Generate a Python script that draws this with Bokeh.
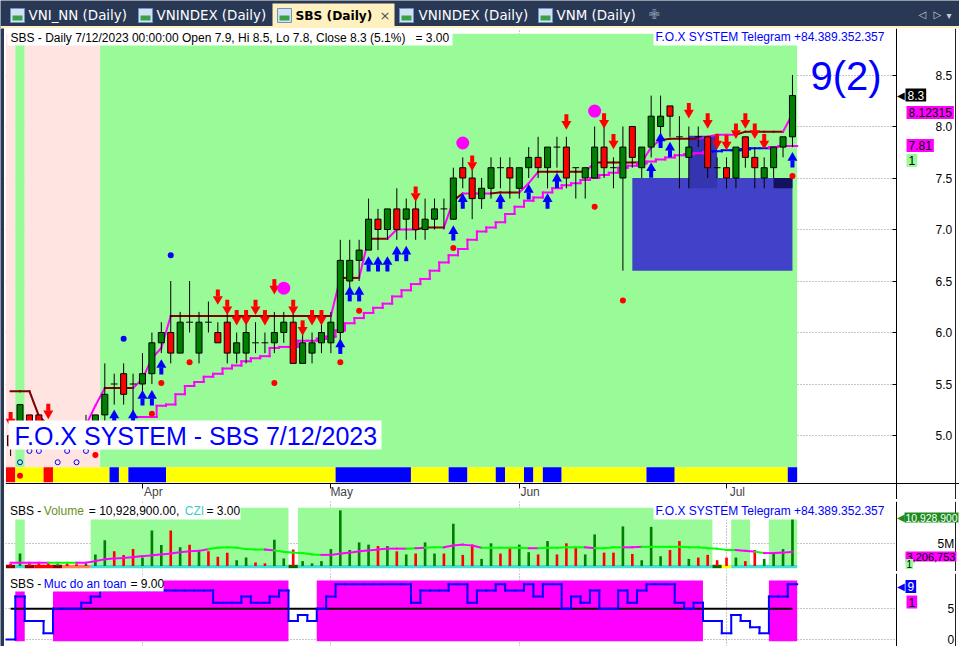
import numpy as np
from bokeh.plotting import figure
from bokeh.models import Range1d, FixedTicker, Label, LinearAxis, Span
from bokeh.layouts import column, row
from bokeh.embed import file_html
from bokeh.resources import INLINE
from bokeh.core.properties import value

# ---------------- data ----------------
month_ticks = [14, 34, 54, 76]
month_labels = ["Apr", "May", "Jun", "Jul"]
price_ticks = [5.0, 5.5, 6.0, 6.5, 7.0, 7.5, 8.0, 8.5]
vol_ticks = [5]
vol_tick_labels = ["5M"]
safe_ticks = [0, 5]
safe_threshold = 5

opens = [5.0, 5.0, 5.2, 5.2, 5.0, 4.9, 5.0, 5.0, 4.9, 5.0,
         5.2, 5.5, 5.6, 5.5, 5.5, 5.6, 5.9, 6.0, 5.8, 6.1,
         5.8, 6.1, 6.0, 6.1, 5.8, 5.8, 5.9, 5.9, 5.9, 6.0,
         6.1, 5.7, 5.8, 5.9, 5.9, 6.0, 6.5, 6.7, 6.8, 7.1,
         7.0, 7.2, 7.1, 7.2, 7.0, 7.1, 7.2, 7.1, 7.6, 7.5,
         7.3, 7.4, 7.6, 7.6, 7.4, 7.6, 7.7, 7.6, 7.8, 7.8,
         7.6, 7.5, 7.5, 7.8, 7.6, 7.5, 8.0, 7.6, 7.8, 8.0,
         8.2, 7.9, 7.7, 7.9, 7.9, 7.6, 7.6, 7.5, 7.9, 7.7,
         7.5, 7.6, 7.8, 7.9]
highs = [5.0, 5.3, 5.2, 5.2, 5.1, 5.0, 5.1, 5.0, 5.2, 5.2,
         5.7, 5.6, 5.7, 5.6, 5.8, 6.0, 6.1, 6.5, 6.2, 6.5,
         6.2, 6.3, 6.1, 6.2, 6.0, 6.2, 6.1, 6.0, 6.2, 6.2,
         6.2, 6.0, 6.0, 6.1, 6.2, 6.9, 6.9, 6.9, 7.3, 7.2,
         7.2, 7.4, 7.3, 7.3, 7.3, 7.3, 7.3, 7.6, 7.7, 7.6,
         7.5, 7.7, 7.7, 7.7, 7.6, 7.8, 7.9, 7.8, 7.9, 7.9,
         7.6, 7.6, 8.0, 8.0, 7.7, 8.0, 8.0, 7.8, 8.3, 8.3,
         8.2, 8.1, 8.0, 8.0, 7.9, 7.7, 7.7, 7.8, 7.9, 7.8,
         7.7, 7.8, 7.9, 8.5]
lows = [4.8, 4.9, 5.0, 5.0, 4.9, 4.9, 4.9, 4.9, 4.9, 4.9,
        5.1, 5.3, 5.3, 5.2, 5.4, 5.5, 5.8, 5.7, 5.8, 6.0,
        5.7, 6.0, 5.9, 5.7, 5.7, 5.7, 5.8, 5.8, 5.8, 5.9,
        5.7, 5.7, 5.7, 5.8, 5.8, 5.9, 6.4, 6.5, 6.8, 6.8,
        6.9, 6.9, 6.9, 6.9, 6.9, 7.0, 7.0, 7.1, 7.4, 7.1,
        7.2, 7.3, 7.4, 7.3, 7.3, 7.5, 7.5, 7.4, 7.6, 7.4,
        7.3, 7.3, 7.5, 7.5, 7.4, 6.6, 7.6, 7.5, 7.7, 7.9,
        7.9, 7.4, 7.4, 7.8, 7.5, 7.5, 7.4, 7.4, 7.6, 7.4,
        7.4, 7.5, 7.7, 7.8]
closes = [4.9, 5.3, 5.1, 5.0, 4.9, 5.0, 4.9, 4.9, 5.0, 5.2,
          5.4, 5.5, 5.4, 5.5, 5.6, 5.9, 6.0, 5.8, 6.1, 6.1,
          6.1, 6.1, 5.9, 5.8, 5.9, 6.0, 5.9, 5.9, 6.0, 6.1,
          5.7, 5.9, 5.9, 6.0, 6.1, 6.7, 6.7, 6.8, 7.1, 7.0,
          7.2, 7.0, 7.2, 7.0, 7.1, 7.2, 7.2, 7.5, 7.5, 7.3,
          7.4, 7.6, 7.6, 7.5, 7.6, 7.7, 7.6, 7.8, 7.8, 7.5,
          7.6, 7.6, 7.8, 7.6, 7.6, 7.8, 7.7, 7.8, 8.1, 8.1,
          8.1, 7.9, 7.8, 7.9, 7.6, 7.6, 7.5, 7.8, 7.7, 7.6,
          7.6, 7.8, 7.9, 8.3]

volume_m = [0.5, 2.8, 0.6, 0.8, 0.7, 0.4, 0.5, 0.4, 0.6, 2.6,
            5.8, 3.3, 2.5, 3.8, 1.9, 8.0, 4.7, 8.0, 4.2, 4.8,
            3.3, 3.3, 2.1, 3.0, 1.3, 1.9, 0.8, 0.6, 5.9, 1.7,
            3.7, 1.1, 0.6, 1.1, 3.8, 12.5, 3.6, 5.3, 4.8, 4.5,
            4.5, 3.3, 2.6, 2.8, 5.3, 2.8, 2.8, 9.5, 2.5, 4.8,
            1.6, 5.1, 2.8, 4.1, 4.8, 3.1, 2.6, 5.6, 2.6, 5.1,
            4.3, 2.6, 7.1, 3.0, 3.0, 8.9, 2.7, 1.3, 8.8, 2.2,
            3.6, 5.6, 1.6, 1.9, 2.5, 1.3, 1.9, 1.9, 1.1, 3.6,
            1.6, 3.0, 3.8, 10.9289]
vol_ma_m = [0.75, 0.75, 0.75, 0.75, 0.75, 0.75, 0.75, 0.75, 0.75, 1.1,
            1.5, 1.7, 1.8, 2.0, 2.2, 2.4, 2.6, 2.8, 3.1, 3.3,
            3.4, 3.8, 4.1, 4.2, 4.1, 3.8, 3.7, 3.7, 3.5, 3.2,
            3.0, 2.9, 2.6, 2.5, 2.5, 2.8, 3.0, 3.3, 3.5, 3.7,
            3.9, 3.9, 3.9, 4.0, 4.1, 4.2, 4.2, 4.6, 4.8, 4.6,
            4.1, 4.1, 4.1, 4.1, 4.1, 4.0, 4.0, 4.1, 4.1, 4.2,
            4.2, 4.2, 4.0, 4.0, 4.2, 4.2, 4.2, 4.3, 4.3, 4.3,
            4.3, 4.3, 4.2, 4.2, 4.0, 3.9, 3.6, 3.6, 3.4, 3.2,
            2.9, 2.9, 3.0, 3.2068]
# M = magenta segment, G = green segment
vol_ma_state = ("MMMMM" "GGG" "MMMMMMMMMMMMMM" "GGGGGG" "M" "GGGGG" "MMMMMMMMM" "G" "M" "GG"
                "MMMM" "GGGGG" "M" "GGGGG" "M" "GGG" "MM" "GGGGGGGGGG" "MM" "G" "MMM")
# volume pane background: G = green, W = white
vol_bg = "W" "G" "WWWWWWW" + "G" * 21 + "W" + "G" * 44 + "WW" "GG" "WW" "GGG"
# CZI strip: D darkred, R red, O coral, T turquoise, K dark green, Y yellow
czi_strip = "DTDRRDOOO" + "T" * 21 + "K" + "T" * 44 + "KY" + "T" * 7

safety = [0, 7, 3, 3, 1, 5, 5, 5, 6, 7,
          8, 8, 8, 8, 8, 8, 8, 8, 8, 8,
          8, 8, 6, 6, 6, 7, 6, 6, 7, 8,
          3, 4, 3, 5, 7, 9, 9, 9, 9, 9,
          9, 9, 9, 6, 8, 8, 8, 9, 9, 6,
          8, 8, 9, 8, 8, 9, 7, 9, 9, 5,
          7, 6, 8, 5, 5, 8, 6, 8, 9, 9,
          9, 6, 5, 6, 3, 3, 1, 4, 3, 2,
          1, 7, 7, 9]
# safety background: M = magenta full, H = magenta (lower), W = white
safe_bg = "W" "H" "WWW" + "M" * 25 + "WWW" + "M" * 41 + "W" * 7 + "MMM"
safe_band_top = 9.6
safe_band_top_low = 8.0
safe_band_bottom = -0.28

# price pane background per bar: P = pink, G = green
price_bg = "P" "G" + "P" * 8 + "G" * 74
# trend ribbon: R red, Y yellow, B blue
ribbon = ("R" "YYY" "R" "YYYYYY" "B" "Y" "BBBB" + "Y" * 18 + "B" * 8 + "YYYY" "BB" "YYY" "B" "YY" "B" "Y" "BB"
          + "Y" * 9 + "BBB" + "Y" * 12 + "B")

trail = [5.43, 5.43, 5.43, 5.19, 5.10, 5.10, 5.10, 5.10, 5.10, 5.29,
         5.46, 5.46, 5.46, 5.46, 5.55, 5.75, 5.85, 6.16, 6.16, 6.16,
         6.16, 6.16, 6.16, 6.16, 6.16, 6.16, 6.16, 6.16, 6.16, 6.16,
         6.16, 6.16, 6.16, 6.16, 6.16, 6.53, 6.53, 6.53, 6.91, 6.91,
         6.91, 7.00, 7.00, 7.00, 7.02, 7.02, 7.02, 7.28, 7.35, 7.35,
         7.35, 7.35, 7.36, 7.36, 7.36, 7.45, 7.56, 7.56, 7.56, 7.56,
         7.56, 7.56, 7.65, 7.65, 7.65, 7.65, 7.65, 7.65, 7.80, 7.87,
         7.88, 7.88, 7.88, 7.88, 7.90, 7.92, 7.92, 7.92, 7.95, 7.95,
         7.95, 7.95, 7.95, 8.12315]
# D = dark red, M = magenta
trail_state = ("DDDDDDDDD" "MM" "DDD" "MMMM" + "D" * 17 + "M" "DD" "M" "DD" "MMM" "DDD" "M" "D" "MMM" "DDD"
               "MM" "DDDDD" "M" "DDDDD" "MM" "DDDD" "MMMM" "DDDDD" "M")

nan = float("nan")
stop_line = [nan] * 14 + [
    5.18, 5.18, 5.29, 5.30, 5.40, 5.48, 5.52, 5.57, 5.60, 5.65,
    5.68, 5.72, 5.75, 5.77, 5.85, 5.86, 5.86, 5.92, 5.92, 5.94,
    5.96, 6.02, 6.09, 6.14, 6.19, 6.24, 6.28, 6.35, 6.41, 6.47,
    6.52, 6.60, 6.68, 6.75, 6.81, 6.90, 6.98, 7.02, 7.07, 7.15,
    7.22, 7.28, 7.31, 7.36, 7.40, 7.43, 7.45, 7.48, 7.50, 7.53,
    7.55, 7.60, 7.62, 7.64, 7.66, 7.68, 7.70, 7.72, 7.73, 7.74,
    7.75, 7.76, 7.77, 7.77, 7.78, 7.79, 7.79, 7.80, 7.81, 7.81]
stop_state = "-" * 14 + "M" * 61 + "B" * 6 + "MMM"

sell_x = [0, 4, 22, 23, 24, 25, 26, 27, 28, 30, 31, 32, 33, 43, 49, 59, 63, 64, 72, 74, 75, 76, 77, 78, 79, 80]
sell_y = [5.16, 5.24, 6.35, 6.25, 6.15, 6.15, 6.25, 6.15, 6.45, 6.25, 6.05, 6.15, 6.15, 7.35, 7.65,
          8.05, 8.06, 7.86, 8.16, 8.06, 7.86, 7.85, 7.96, 8.06, 7.96, 7.86]
buy_x = [11, 13, 14, 15, 16, 35, 36, 37, 38, 39, 40, 41, 42, 47, 48, 52, 55, 57, 58, 68, 69, 70, 83]
buy_y = [5.17, 5.17, 5.36, 5.36, 5.66, 5.86, 6.37, 6.37, 6.66, 6.66, 6.66, 6.76, 6.76, 6.96, 7.27,
         7.27, 7.36, 7.27, 7.47, 7.57, 7.86, 7.77, 7.67]
big_dot_x = [29, 48, 62]
big_dot_y = [6.43, 7.84, 8.15]
red_dot_x = [1, 9, 15, 16, 19, 28, 35, 37, 47, 62, 65, 83]
red_dot_y = [4.61, 4.81, 5.21, 5.51, 5.71, 5.51, 5.71, 6.21, 6.82, 7.22, 6.31, 7.52]
blue_dot_x = [12, 17]
blue_dot_y = [5.94, 6.75]
ring_x = [1, 2, 3, 5, 6, 7, 8]
ring_y = [4.74, 4.85, 4.85, 4.74, 4.85, 4.74, 4.85]

box_left = [66, 72, 81]
box_right = [83, 75, 83]
box_bottom = [6.60, 7.40, 7.40]
box_top = [7.50, 7.91, 7.50]

bg_top = 8.90
ribbon_top, ribbon_bottom = 4.692, 4.547
axis_level = 4.534
vol_bg_top = 13.08
czi_top, czi_bottom = 0.27, -0.49

# ---------------- geometry (reference pixels, 1:1) ----------------
FW = 954                       # frame width: x 5 .. 959
MAIN_T, MAIN_FH = 28, 471      # price pane frame: y 28 .. 499
VOL_T, VOL_FH = 501, 70        # volume pane frame: y 501 .. 571
SAF_T, SAF_FH = 573, 73        # safety pane frame: y 573 .. 646
BAR_PX = 9.42
X0_PX = 10.1
PXY = 103.0
FONT = "Liberation Sans"
FS = "12px"

n = len(opens)
idx = np.arange(n)
XR = Range1d((5 - X0_PX) / BAR_PX, (959 - X0_PX) / BAR_PX)
AXIS_X = (896 - X0_PX) / BAR_PX    # where the right value axis sits
BORDER_X = (955 - X0_PX) / BAR_PX  # right window border line

GREEN_BG = "#98FB98"
PINK_BG = "#FFE4E1"
MAG = "#FF00FF"
BLUE = "#0000FF"


def runs(states):
    out = []
    start = 0
    for i in range(1, len(states) + 1):
        if i == len(states) or states[i] != states[start]:
            out.append((start, i - 1, states[start]))
            start = i
    return out


def dx(px):
    return (px - X0_PX) / BAR_PX


def dy(fig, top, fh, py):
    y0, y1 = fig.y_range.start, fig.y_range.end
    return y1 - (py - top) / fh * (y1 - y0)


def box(fig, top, fh, x0, x1, y0, y1, color="white"):
    fig.quad(left=[dx(x0)], right=[dx(x1)], top=[dy(fig, top, fh, y0)], bottom=[dy(fig, top, fh, y1)],
             color=color, line_color=None)


def lab(fig, rx, ry, top, fh, text, color="black", size=FS, bg=None, pad=1, style="normal", font=FONT):
    L = Label(x=rx - 5, y=fh - (ry - top), x_units="screen", y_units="screen",
              text=text, text_color=color, text_font=font, text_font_size=size,
              text_font_style=style, text_baseline="middle", text_align="left")
    if bg is not None:
        L.background_fill_color = bg
        L.padding = pad
    fig.add_layout(L)


def step_segs(vals, states, cmap):
    x0, y0, x1, y1, c = [], [], [], [], []
    for i in range(len(vals)):
        v = vals[i]
        if v != v:
            continue
        x0.append(i - 0.5); x1.append(i + 0.5); y0.append(v); y1.append(v); c.append(cmap[states[i]])
        if i + 1 < len(vals) and vals[i + 1] == vals[i + 1] and vals[i + 1] != v:
            x0.append(i + 0.5); x1.append(i + 0.5); y0.append(v); y1.append(vals[i + 1])
            c.append(cmap[states[i + 1]])
    return x0, y0, x1, y1, c


def pane(fh, yr):
    return figure(frame_width=FW, frame_height=fh, x_range=XR, y_range=yr, y_axis_location="right",
                  output_backend="svg", toolbar_location=None,
                  min_border_left=1, min_border_right=0, min_border_top=0, min_border_bottom=0,
                  background_fill_color="white", border_fill_color="white", outline_line_color=None)


def style_y(f, ticks, labels, standoff, tick_in):
    ax = f.yaxis[0]
    ax.fixed_location = AXIS_X
    ax.ticker = FixedTicker(ticks=ticks)
    ax.major_label_overrides = {t: l for t, l in zip(ticks, labels)}
    ax.major_tick_in = tick_in
    ax.major_tick_out = 0
    ax.minor_tick_in = 0
    ax.minor_tick_out = 0
    ax.axis_line_color = "black"
    ax.major_tick_line_color = "black"
    ax.major_label_standoff = standoff
    ax.major_label_text_font = FONT
    ax.major_label_text_font_size = FS
    ax.major_label_text_color = "black"
    for g in f.ygrid:
        g.grid_line_color = "#8C8C8C"
        g.grid_line_dash = "1 2"
    f.add_layout(Span(location=BORDER_X, dimension="height", line_color="#202020", line_width=1))


def cover_right(f):
    f.quad(left=[AXIS_X], right=[XR.end], bottom=[f.y_range.start], top=[f.y_range.end],
           color="white", line_color=None)


# ---------------- main price pane ----------------
p = pane(MAIN_FH, Range1d(8.5 - (499 - 74.5) / PXY, 8.5 + (74.5 - 28) / PXY))
style_y(p, price_ticks, [f"{t:.1f}" for t in price_ticks], 39, 4)
xa = p.xaxis[0]
xa.fixed_location = axis_level
xa.ticker = FixedTicker(ticks=month_ticks)
xa.major_label_overrides = {t: "" for t in month_ticks}
xa.major_tick_out = 5
xa.major_tick_in = 0
xa.minor_tick_in = 0
xa.minor_tick_out = 0
xa.axis_line_color = "black"
label_shift = 1.15  # month names start just right of their tick, as in AmiBroker
xb = LinearAxis(fixed_location=axis_level, ticker=FixedTicker(ticks=[t + label_shift for t in month_ticks]),
                major_label_overrides={t + label_shift: l for t, l in zip(month_ticks, month_labels)},
                major_tick_out=0, major_tick_in=0, minor_tick_in=0, minor_tick_out=0,
                axis_line_color=None, major_label_standoff=2,
                major_label_text_font=FONT, major_label_text_font_size=FS)
p.add_layout(xb, "below")
p.xgrid[0].grid_line_color = "#8C8C8C"
p.xgrid[0].grid_line_dash = "1 2"

for s, e, st in runs(price_bg):
    p.quad(left=[s - 0.5], right=[e + 0.5], bottom=[ribbon_top], top=[bg_top],
           color=GREEN_BG if st == "G" else PINK_BG, line_color=None)
rib_col = {"R": "#FF0000", "Y": "#FFFF00", "B": BLUE}
for s, e, st in runs(ribbon):
    p.quad(left=[s - 0.5], right=[e + 0.5], bottom=[ribbon_bottom], top=[ribbon_top],
           color=rib_col[st], line_color=None)
p.quad(left=[XR.start], right=[XR.end], bottom=[p.y_range.start], top=[axis_level], color="white", line_color=None)
cover_right(p)

p.quad(left=box_left, right=box_right, bottom=box_bottom, top=box_top,
       color=["#4242C8", "#3535B2", "#12125E"], line_color=None)

tcol = ["#800000" if trail_state[i] == "D" else MAG for i in range(1, n)]
p.segment(x0=list(idx[:-1]), y0=trail[:-1], x1=list(idx[1:]), y1=trail[1:],
          line_color=tcol, line_width=2, line_cap="square")

sx0, sy0, sx1, sy1, sc = step_segs(stop_line, stop_state, {"M": MAG, "B": BLUE, "-": MAG})
p.segment(x0=sx0, y0=sy0, x1=sx1, y1=sy1, line_color=sc, line_width=2, line_cap="square")

body_top = np.maximum(opens, closes)
body_bot = np.minimum(opens, closes)
up = np.array(closes) > np.array(opens)
doji = np.array(closes) == np.array(opens)
p.segment(x0=idx, y0=lows, x1=idx, y1=highs, line_color="black", line_width=1)
nd = ~doji
p.vbar(x=idx[nd], width=0.64, top=body_top[nd], bottom=body_bot[nd],
       fill_color=["#008000" if u else "#FF0000" for u in up[nd]], line_color="black", line_width=1)
p.segment(x0=idx[doji] - 0.36, y0=np.array(opens)[doji], x1=idx[doji] + 0.36, y1=np.array(opens)[doji],
          line_color="black", line_width=1)

# signals
sy = np.array(sell_y)
p.rect(x=sell_x, y=sy + 3.5 / PXY, width=4, height=7, width_units="screen", height_units="screen",
       color="#FF0000", line_color=None)
p.scatter(x=sell_x, y=sy - 2.6 / PXY, marker="inverted_triangle", size=10, color="#FF0000", line_color=None)
by = np.array(buy_y)
p.rect(x=buy_x, y=by - 3.5 / PXY, width=4, height=7, width_units="screen", height_units="screen",
       color=BLUE, line_color=None)
p.scatter(x=buy_x, y=by + 2.6 / PXY, marker="triangle", size=10, color=BLUE, line_color=None)
p.scatter(x=big_dot_x, y=big_dot_y, marker="circle", size=13, color=MAG, line_color=None)
p.scatter(x=red_dot_x, y=red_dot_y, marker="circle", size=6, color="#FF0000", line_color=None)
p.scatter(x=blue_dot_x, y=blue_dot_y, marker="circle", size=6, color=BLUE, line_color=None)
p.scatter(x=ring_x, y=ring_y, marker="circle", size=5, fill_color=None, line_color=BLUE, line_width=1)

# texts of the price pane
box(p, MAIN_T, MAIN_FH, 7, 452, 29, 45)
lab(p, 10, 37, MAIN_T, MAIN_FH,
    "SBS - Daily 7/12/2023 00:00:00 Open 7.9, Hi 8.5, Lo 7.8, Close 8.3 (5.1%) \u00a0 = 3.00")
box(p, MAIN_T, MAIN_FH, 653, 887, 29, 45)
lab(p, 655, 36.5, MAIN_T, MAIN_FH, "F.O.X SYSTEM Telegram +84.389.352.357", color=BLUE)
lab(p, 810, 75, MAIN_T, MAIN_FH, "9(2)", color=BLUE, size="40px")
box(p, MAIN_T, MAIN_FH, 8, 381, 420, 449)
lab(p, 14, 435, MAIN_T, MAIN_FH, "F.O.X SYSTEM - SBS 7/12/2023", color=BLUE, size="25px")
lab(p, 896, 94.5, MAIN_T, MAIN_FH, "\u25c0", size="10px")
lab(p, 905, 94.5, MAIN_T, MAIN_FH, "8.3", color="white", bg="black", pad=2)
lab(p, 906, 112, MAIN_T, MAIN_FH, "8.12315", bg=MAG, pad=2)
lab(p, 906, 145, MAIN_T, MAIN_FH, "7.81", bg=MAG, pad=2)
lab(p, 906, 160, MAIN_T, MAIN_FH, "1", bg=GREEN_BG, pad=2)

# ---------------- volume pane ----------------
v = pane(VOL_FH, Range1d((565.5 - 571) / 4.45, (565.5 - 501) / 4.45))
style_y(v, vol_ticks, vol_tick_labels, 41, 0)
v.xaxis.visible = False
v.xgrid[0].ticker = FixedTicker(ticks=month_ticks)
v.xgrid[0].grid_line_color = "#8C8C8C"
v.xgrid[0].grid_line_dash = "1 2"
for s, e, st in runs(vol_bg):
    if st == "G":
        v.quad(left=[s - 0.5], right=[e + 0.5], bottom=[czi_top], top=[vol_bg_top], color=GREEN_BG, line_color=None)
strip_col = {"D": "#8B0000", "R": "#FF0000", "O": "#FF7F50", "T": "#40E0D0", "K": "#006400", "Y": "#FFFF00"}
for s, e, st in runs(czi_strip):
    v.quad(left=[s - 0.5], right=[e + 0.5], bottom=[czi_bottom], top=[czi_top], color=strip_col[st], line_color=None)
cover_right(v)
v.vbar(x=idx, width=0.28, top=volume_m, bottom=0,
       color=["#008000" if u else "#FF0000" for u in up], line_color=None)
mcol = [MAG if vol_ma_state[i] == "M" else "#00FF00" for i in range(1, n)]
v.segment(x0=list(idx[:-1]), y0=vol_ma_m[:-1], x1=list(idx[1:]), y1=vol_ma_m[1:],
          line_color=mcol, line_width=2, line_cap="square")
box(v, VOL_T, VOL_FH, 7, 240, 503, 519)
lab(v, 9.5, 510.5, VOL_T, VOL_FH, "SBS - ")
lab(v, 43.3, 510.5, VOL_T, VOL_FH, "Volume", color="#6B8E23")
lab(v, 88.3, 510.5, VOL_T, VOL_FH, "= 10,928,900.00,")
lab(v, 184.3, 510.5, VOL_T, VOL_FH, "CZI", color="#3CCFC0")
lab(v, 206, 510.5, VOL_T, VOL_FH, "= 3.00")
box(v, VOL_T, VOL_FH, 653, 887, 503, 519)
lab(v, 655, 510.5, VOL_T, VOL_FH, "F.O.X SYSTEM Telegram +84.389.352.357", color=BLUE)
lab(v, 896, 517, VOL_T, VOL_FH, "\u25c0", color="#1E8C1E", size="10px")
lab(v, 904, 517, VOL_T, VOL_FH, "10,928,900", color="white", bg="#1E8C1E", pad=1, size="10.4px")
lab(v, 905, 556, VOL_T, VOL_FH, "3,206,753", bg=MAG, pad=1, size="11px")
lab(v, 905, 563.5, VOL_T, VOL_FH, "1", bg=GREEN_BG, pad=1, size="10px")

# ---------------- safety pane ----------------
s = pane(SAF_FH, Range1d((639 - 646) / 6.14, (639 - 573) / 6.14))
style_y(s, safe_ticks, [str(t) for t in safe_ticks], 51, 0)
s.xaxis.visible = False
s.xgrid[0].ticker = FixedTicker(ticks=month_ticks)
s.xgrid[0].grid_line_color = "#8C8C8C"
s.xgrid[0].grid_line_dash = "1 2"
for a, b, st in runs(safe_bg):
    if st != "W":
        s.quad(left=[a - 0.5], right=[b + 0.5], bottom=[safe_band_bottom],
               top=[safe_band_top if st == "M" else safe_band_top_low], color=MAG, line_color=None)
cover_right(s)
s.line(x=[idx[0], idx[-1]], y=[safe_threshold, safe_threshold], line_color="black", line_width=2)
qx0, qy0, qx1, qy1, qc = step_segs([float(x) for x in safety], "B" * n, {"B": BLUE})
s.segment(x0=qx0, y0=qy0, x1=qx1, y1=qy1, line_color=qc, line_width=2, line_cap="square")
box(s, SAF_T, SAF_FH, 7, 163, 576, 591)
lab(s, 9.5, 583.5, SAF_T, SAF_FH, "SBS - ")
lab(s, 43.3, 583.5, SAF_T, SAF_FH, "Muc do an toan", color=BLUE)
lab(s, 130, 583.5, SAF_T, SAF_FH, "= 9.00")
lab(s, 896, 586, SAF_T, SAF_FH, "\u25c0", color=BLUE, size="10px")
lab(s, 905, 586, SAF_T, SAF_FH, "9", color="white", bg=BLUE, pad=2)
lab(s, 906, 601.5, SAF_T, SAF_FH, "1", bg=MAG, pad=2)


# ---------------- chrome: separators, left strip, tab bar ----------------
def block(w, h, color):
    return figure(width=w, height=h, min_border=0, toolbar_location=None, x_axis_type=None,
                  y_axis_type=None, output_backend="svg", background_fill_color=color,
                  border_fill_color=color, outline_line_color=None)


sep1 = block(955, 2, "black")
sep2 = block(955, 2, "black")
strip = block(4, 618, "#293955")

t = figure(width=959, height=28, x_range=Range1d(0, 959), y_range=Range1d(28, 0), min_border=0,
           toolbar_location=None, x_axis_type=None, y_axis_type=None, output_backend="svg",
           background_fill_color="#293955", border_fill_color="#293955", outline_line_color=None)
t.xgrid.visible = False
t.ygrid.visible = False
t.quad(left=[0], right=[959], top=[25.5], bottom=[28], color="#FFF0C0", line_color=None)
t.quad(left=[272], right=[394], top=[3], bottom=[28], color="#FFF0C0", line_color=None)
icon_x = [10, 138, 277, 399, 538]
t.quad(left=icon_x, right=[x + 14 for x in icon_x], top=[8] * 5, bottom=[22] * 5,
       fill_color="#D3E3F5", line_color="#6F93C2")
t.quad(left=[x + 2 for x in icon_x], right=[x + 12 for x in icon_x], top=[15] * 5, bottom=[20] * 5,
       fill_color="#3BA146", line_color=None)
t.text(x=[28, 156, 418, 556], y=[15] * 4,
       text=["VNI_NN (Daily)", "VNINDEX (Daily)", "VNINDEX (Daily)", "VNM (Daily)"],
       text_color="white", text_font=value("DejaVu Sans"), text_font_size="13.4px", text_baseline="middle")
t.text(x=[295], y=[15], text=["SBS (Daily)"], text_color="black", text_font=value("DejaVu Sans"),
       text_font_size="12.2px", text_font_style="bold", text_baseline="middle")
t.text(x=[379], y=[15], text=["\u00d7"], text_color="#505050", text_font=value("DejaVu Sans"),
       text_font_size="13px", text_baseline="middle")
t.text(x=[648], y=[14], text=["\u2719"], text_color="#8A96AA", text_font=value("DejaVu Sans"),
       text_font_size="13px", text_baseline="middle")
t.text(x=[918, 933, 946], y=[14, 14, 15], text=["\u25c1", "\u25b7", "\u25be"], text_color="#C8CFDA",
       text_font=value("DejaVu Sans"), text_font_size="10px", text_baseline="middle")

panes = column(p, sep1, v, sep2, s, spacing=0)
layout = column(t, row(strip, panes, spacing=0), spacing=0)

with open("out.html", "w") as fh:
    fh.write(file_html(layout, INLINE, title="SBS (Daily)"))
